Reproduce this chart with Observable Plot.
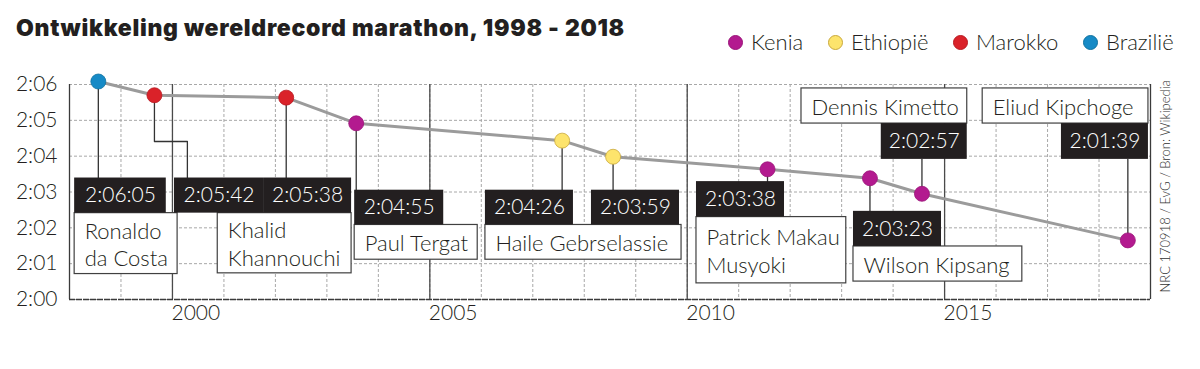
<!DOCTYPE html>
<html><head><meta charset="utf-8">
<script src="https://cdn.jsdelivr.net/npm/d3@7"></script>
<script src="https://cdn.jsdelivr.net/npm/@observablehq/plot@0.6"></script>
<style>
body{margin:0;background:#fff;font-family:Lato,sans-serif;}
#wrap{position:relative;width:1200px;height:369px;overflow:hidden;background:#fff}
#title{position:absolute;z-index:2;left:16px;top:17px;font-family:Inter,sans-serif;font-size:23px;line-height:23px;font-weight:900;letter-spacing:0.7px;color:#231f20;white-space:nowrap}
#legend{position:absolute;z-index:2;left:728px;top:31px;display:flex;font-size:22px;line-height:22px;font-weight:300;color:#231f20}
.item{display:flex;align-items:center;gap:8px}
.sw{width:15px;height:15px;border-radius:50%;box-sizing:border-box;flex:none}
#chart{position:absolute;z-index:1;left:0;top:0}
</style></head>
<body><div id="wrap">
<div id="title">Ontwikkeling wereldrecord marathon, 1998 - 2018</div>
<div id="legend"></div>
<div id="chart"></div>
</div>
<script>
// ---- data ----
const years = [1998.56, 1999.65, 2002.21, 2003.57, 2007.57, 2008.56, 2011.56, 2013.55, 2014.56, 2018.56];
const times = ["2:06:05","2:05:42","2:05:38","2:04:55","2:04:26","2:03:59","2:03:38","2:03:23","2:02:57","2:01:39"];
const runners = ["Ronaldo da Costa","Khalid Khannouchi","Khalid Khannouchi","Paul Tergat","Haile Gebrselassie","Haile Gebrselassie","Patrick Makau Musyoki","Wilson Kipsang","Dennis Kimetto","Eliud Kipchoge"];
const countries = ["Brazilië","Marokko","Marokko","Kenia","Ethiopië","Ethiopië","Kenia","Kenia","Kenia","Kenia"];
const countryOrder = ["Kenia","Ethiopië","Marokko","Brazilië"];
const countryFill = ["#b31a8f","#fde46c","#da2229","#168ac6"];
const countryStroke = ["#9a1479","#c9a83c","#b81b22","#10729f"];
const yTicks = ["2:00","2:01","2:02","2:03","2:04","2:05","2:06"];
const xTicks = [2000, 2005, 2010, 2015];
const source = "NRC 170918 / EvG / Bron: Wikipedia";

// ---- annotation layout (data units: years, minutes past 2:00) ----
const timeBoxes = [
  {i:0, x1:1998.10, x2:1999.88, y1:2.41, y2:3.39},
  {i:1, x1:2000.04, x2:2001.77, y1:2.41, y2:3.39},
  {i:2, x1:2001.77, x2:2003.48, y1:2.41, y2:3.39},
  {i:3, x1:2003.54, x2:2005.27, y1:2.08, y2:3.05},
  {i:4, x1:2006.08, x2:2007.79, y1:2.08, y2:3.05},
  {i:5, x1:2008.14, x2:2009.85, y1:2.08, y2:3.05},
  {i:6, x1:2010.18, x2:2011.89, y1:2.30, y2:3.29},
  {i:7, x1:2013.23, x2:2014.94, y1:1.48, y2:2.46},
  {i:8, x1:2013.77, x2:2015.44, y1:3.91, y2:4.91},
  {i:9, x1:2017.27, x2:2018.96, y1:3.91, y2:4.91}
];
const nameBoxes = [
  {i:0, wrap:1, x1:1998.10, x2:2000.10, y1:0.71, y2:2.41},
  {i:1, wrap:1, x1:2000.88, x2:2003.48, y1:0.73, y2:2.41},
  {i:3, wrap:0, x1:2003.54, x2:2005.93, y1:1.11, y2:2.08},
  {i:4, wrap:0, x1:2006.08, x2:2009.89, y1:1.11, y2:2.08},
  {i:6, wrap:2, x1:2010.18, x2:2013.09, y1:0.45, y2:2.30},
  {i:7, wrap:0, x1:2013.23, x2:2016.51, y1:0.50, y2:1.48},
  {i:8, wrap:0, x1:2012.22, x2:2015.44, y1:4.91, y2:5.89},
  {i:9, wrap:0, x1:2015.74, x2:2018.96, y1:4.91, y2:5.89}
];
const elbows = {1: [[1999.65, 4.41], [2000.29, 4.41]]};
const legendItemWidths = [100, 125, 130, null];

// ---- build ----
const toMin = t => { const [h,m,s] = t.split(":").map(Number); return (h*3600 + m*60 + s - 7200) / 60; };
const recs = years.map((x, i) => ({x, y: toMin(times[i]), time: times[i], name: runners[i], country: countries[i]}));
const fillOf = c => countryFill[countryOrder.indexOf(c)];
const strokeOf = c => countryStroke[countryOrder.indexOf(c)];

const leaders = [];
timeBoxes.forEach(b => {
  const r = recs[b.i];
  const pts = [[r.x, r.y], ...(elbows[b.i] || [])];
  const lastX = pts[pts.length - 1][0];
  pts.push([lastX, r.y < b.y1 ? b.y1 : b.y2]);
  pts.forEach(([x, y]) => leaders.push({id: b.i, x, y}));
});
const nameText = b => {
  const w = recs[b.i].name.split(" ");
  return b.wrap ? w.slice(0, b.wrap).join(" ") + "\n" + w.slice(b.wrap).join(" ") : recs[b.i].name;
};

const chart = Plot.plot({
  width: 1200, height: 369,
  marginLeft: 69, marginRight: 50, marginTop: 84, marginBottom: 70,
  x: {domain: [1998, 2019]},
  y: {domain: [0, 6]},
  color: {type: "identity"},
  style: {fontFamily: "Lato, sans-serif", fontSize: "21px", fontWeight: 300, color: "#231f20", background: "transparent", overflow: "visible"},
  marks: [
    Plot.ruleX(d3.range(1998, 2020), {stroke: "#a8a8a8", strokeDasharray: "3,2"}),
    Plot.ruleY(d3.range(0, 7), {stroke: "#a8a8a8", strokeDasharray: "3,2"}),
    Plot.ruleX(xTicks, {stroke: "#4a4a4a", strokeWidth: 1.3}),
    Plot.ruleX([1998, 2019], {stroke: "#3a3a3a", strokeWidth: 1.3}),
    Plot.ruleY([0], {stroke: "#3a3a3a", strokeWidth: 1.3, strokeDasharray: "6,1"}),
    Plot.axisY(d3.range(0, 7), {tickSize: 0, tickPadding: 12, tickFormat: d => yTicks[d], fontSize: 21, fill: "#231f20"}),
    Plot.axisX(xTicks, {tickSize: 0, tickPadding: 6, textAnchor: "start", dx: -1, tickFormat: d => `${d}`, fontSize: 21, fill: "#231f20"}),
    Plot.line(recs, {x: "x", y: "y", stroke: "#9b9b9b", strokeWidth: 3}),
    Plot.line(leaders, {x: "x", y: "y", z: "id", stroke: "#333", strokeWidth: 1.3}),
    Plot.rect(nameBoxes, {x1: "x1", x2: "x2", y1: "y1", y2: "y2", fill: "white", stroke: "#404040", strokeWidth: 1.2}),
    Plot.rect(timeBoxes, {x1: "x1", x2: "x2", y1: "y1", y2: "y2", fill: "#231f20"}),
    Plot.text(timeBoxes, {x: d => (d.x1 + d.x2) / 2, y: d => (d.y1 + d.y2) / 2, text: d => recs[d.i].time, fill: "white", fontSize: 21}),
    Plot.text(nameBoxes, {x: "x1", y: d => (d.y1 + d.y2) / 2, text: nameText, textAnchor: "start", dx: 10, lineHeight: 1.25, fill: "#231f20", fontSize: 22}),
    Plot.dot(recs, {x: "x", y: "y", r: 7.5, fill: d => fillOf(d.country), stroke: d => strokeOf(d.country), strokeWidth: 0.8}),
    Plot.text([source], {x: () => 2019, y: () => 0, text: d => d, rotate: -90, textAnchor: "start", dx: 15, dy: -7, fontSize: 13, fill: "#333"})
  ]
});
document.getElementById("chart").appendChild(chart);

const legend = document.getElementById("legend");
countryOrder.forEach((c, i) => {
  const it = document.createElement("div"); it.className = "item";
  if (legendItemWidths[i]) it.style.width = legendItemWidths[i] + "px";
  const sw = document.createElement("span"); sw.className = "sw";
  sw.style.background = countryFill[i]; sw.style.border = `0.8px solid ${countryStroke[i]}`;
  const t = document.createElement("span"); t.textContent = c;
  it.append(sw, t); legend.append(it);
});
</script>
</body></html>
